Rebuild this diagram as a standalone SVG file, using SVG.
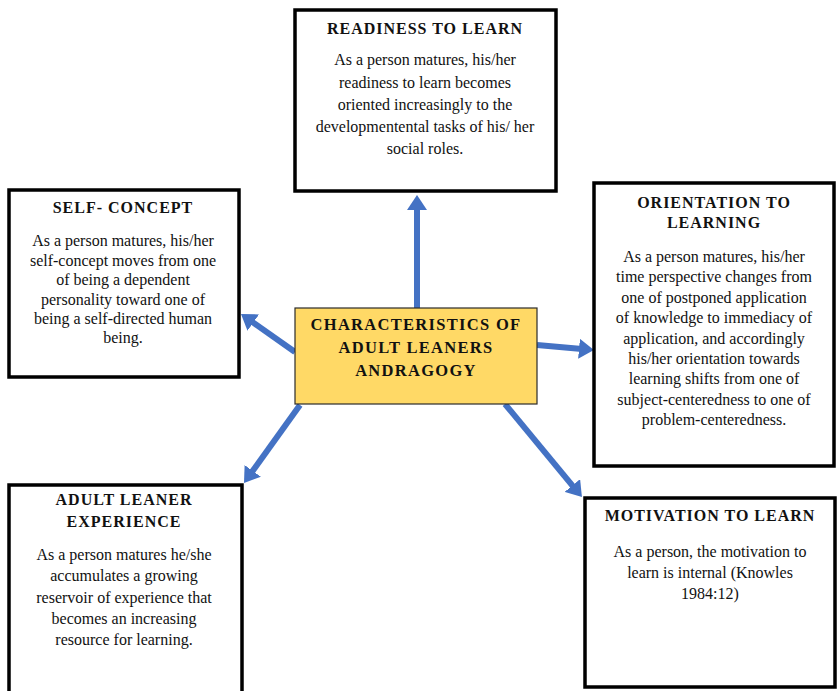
<svg xmlns="http://www.w3.org/2000/svg" width="838" height="691" viewBox="0 0 838 691">
<defs>
<style>
.box{fill:#fff;stroke:#000;stroke-width:3.5}
.core{fill:#FFD966;stroke:#2b2b2b;stroke-width:1.2}
.t{font-family:"Liberation Serif",serif;font-weight:bold;font-size:16px;letter-spacing:1px;fill:#111;text-anchor:middle}
.ct{font-family:"Liberation Serif",serif;font-weight:bold;font-size:16.5px;letter-spacing:1.3px;fill:#111;text-anchor:middle}
.b{font-family:"Liberation Serif",serif;font-size:16px;fill:#111;text-anchor:middle}
.c{stroke:#4472C4;stroke-width:6;fill:none;marker-end:url(#ah)}
</style>
<marker id="ah" viewBox="0 0 15 20" refX="3" refY="10" markerWidth="2.5" markerHeight="3.333" orient="auto" markerUnits="strokeWidth">
<path d="M0,0 L15,10 L0,20 z" fill="#4472C4"/>
</marker>
</defs>
<rect width="838" height="691" fill="#fff"/>
<g id="connectors">
<line class="c" x1="417" y1="308" x2="417" y2="207"/>
<line class="c" x1="295" y1="352" x2="250.8" y2="320.9"/>
<line class="c" x1="537" y1="345" x2="582" y2="349"/>
<line class="c" x1="300" y1="405" x2="251" y2="473.3"/>
<line class="c" x1="505" y1="404" x2="574.3" y2="487.8"/>
</g>
<g id="center">
<rect class="core" x="295" y="308" width="242" height="96"/>
<text class="ct" font-family="Liberation Serif" x="416" y="330">CHARACTERISTICS OF</text>
<text class="ct" font-family="Liberation Serif" x="416" y="353">ADULT LEANERS</text>
<text class="ct" font-family="Liberation Serif" x="416" y="376">ANDRAGOGY</text>
</g>
<g id="readiness">
<rect class="box" x="295" y="10" width="261" height="181"/>
<text class="t" font-family="Liberation Serif" x="425" y="34">READINESS TO LEARN</text>
<text class="b" font-family="Liberation Serif" x="425" y="65">As a person matures, his/her</text>
<text class="b" font-family="Liberation Serif" x="425" y="88">readiness to learn becomes</text>
<text class="b" font-family="Liberation Serif" x="425" y="110">oriented increasingly to the</text>
<text class="b" font-family="Liberation Serif" x="425" y="132">developmentental tasks of his/ her</text>
<text class="b" font-family="Liberation Serif" x="425" y="154">social roles.</text>
</g>
<g id="self-concept">
<rect class="box" x="9" y="190" width="230" height="187"/>
<text class="t" font-family="Liberation Serif" x="123" y="213">SELF- CONCEPT</text>
<text class="b" font-family="Liberation Serif" x="123" y="246">As a person matures, his/her</text>
<text class="b" font-family="Liberation Serif" x="123" y="265.5">self-concept moves from one</text>
<text class="b" font-family="Liberation Serif" x="123" y="285">of being a dependent</text>
<text class="b" font-family="Liberation Serif" x="123" y="304.5">personality toward one of</text>
<text class="b" font-family="Liberation Serif" x="123" y="324">being a self-directed human</text>
<text class="b" font-family="Liberation Serif" x="123" y="343">being.</text>
</g>
<g id="orientation">
<rect class="box" x="594" y="183" width="240" height="283"/>
<text class="t" font-family="Liberation Serif" x="714" y="208">ORIENTATION TO</text>
<text class="t" font-family="Liberation Serif" x="714" y="228">LEARNING</text>
<text class="b" font-family="Liberation Serif" x="714" y="262">As a person matures, his/her</text>
<text class="b" font-family="Liberation Serif" x="714" y="282.4">time perspective changes from</text>
<text class="b" font-family="Liberation Serif" x="714" y="302.8">one of postponed application</text>
<text class="b" font-family="Liberation Serif" x="714" y="323.2">of knowledge to immediacy of</text>
<text class="b" font-family="Liberation Serif" x="714" y="343.6">application, and accordingly</text>
<text class="b" font-family="Liberation Serif" x="714" y="364">his/her orientation towards</text>
<text class="b" font-family="Liberation Serif" x="714" y="384.4">learning shifts from one of</text>
<text class="b" font-family="Liberation Serif" x="714" y="404.8">subject-centeredness to one of</text>
<text class="b" font-family="Liberation Serif" x="714" y="425.2">problem-centeredness.</text>
</g>
<g id="experience">
<rect class="box" x="9" y="485" width="233" height="230"/>
<text class="t" font-family="Liberation Serif" x="124" y="505">ADULT LEANER</text>
<text class="t" font-family="Liberation Serif" x="124" y="527">EXPERIENCE</text>
<text class="b" font-family="Liberation Serif" x="124" y="560">As a person matures he/she</text>
<text class="b" font-family="Liberation Serif" x="124" y="581.3">accumulates a growing</text>
<text class="b" font-family="Liberation Serif" x="124" y="602.5">reservoir of experience that</text>
<text class="b" font-family="Liberation Serif" x="124" y="623.8">becomes an increasing</text>
<text class="b" font-family="Liberation Serif" x="124" y="645">resource for learning.</text>
</g>
<g id="motivation">
<rect class="box" x="585" y="498" width="250" height="189"/>
<text class="t" font-family="Liberation Serif" x="710" y="521">MOTIVATION TO LEARN</text>
<text class="b" font-family="Liberation Serif" x="710" y="557">As a person, the motivation to</text>
<text class="b" font-family="Liberation Serif" x="710" y="578">learn is internal (Knowles</text>
<text class="b" font-family="Liberation Serif" x="710" y="599">1984:12)</text>
</g>
</svg>
